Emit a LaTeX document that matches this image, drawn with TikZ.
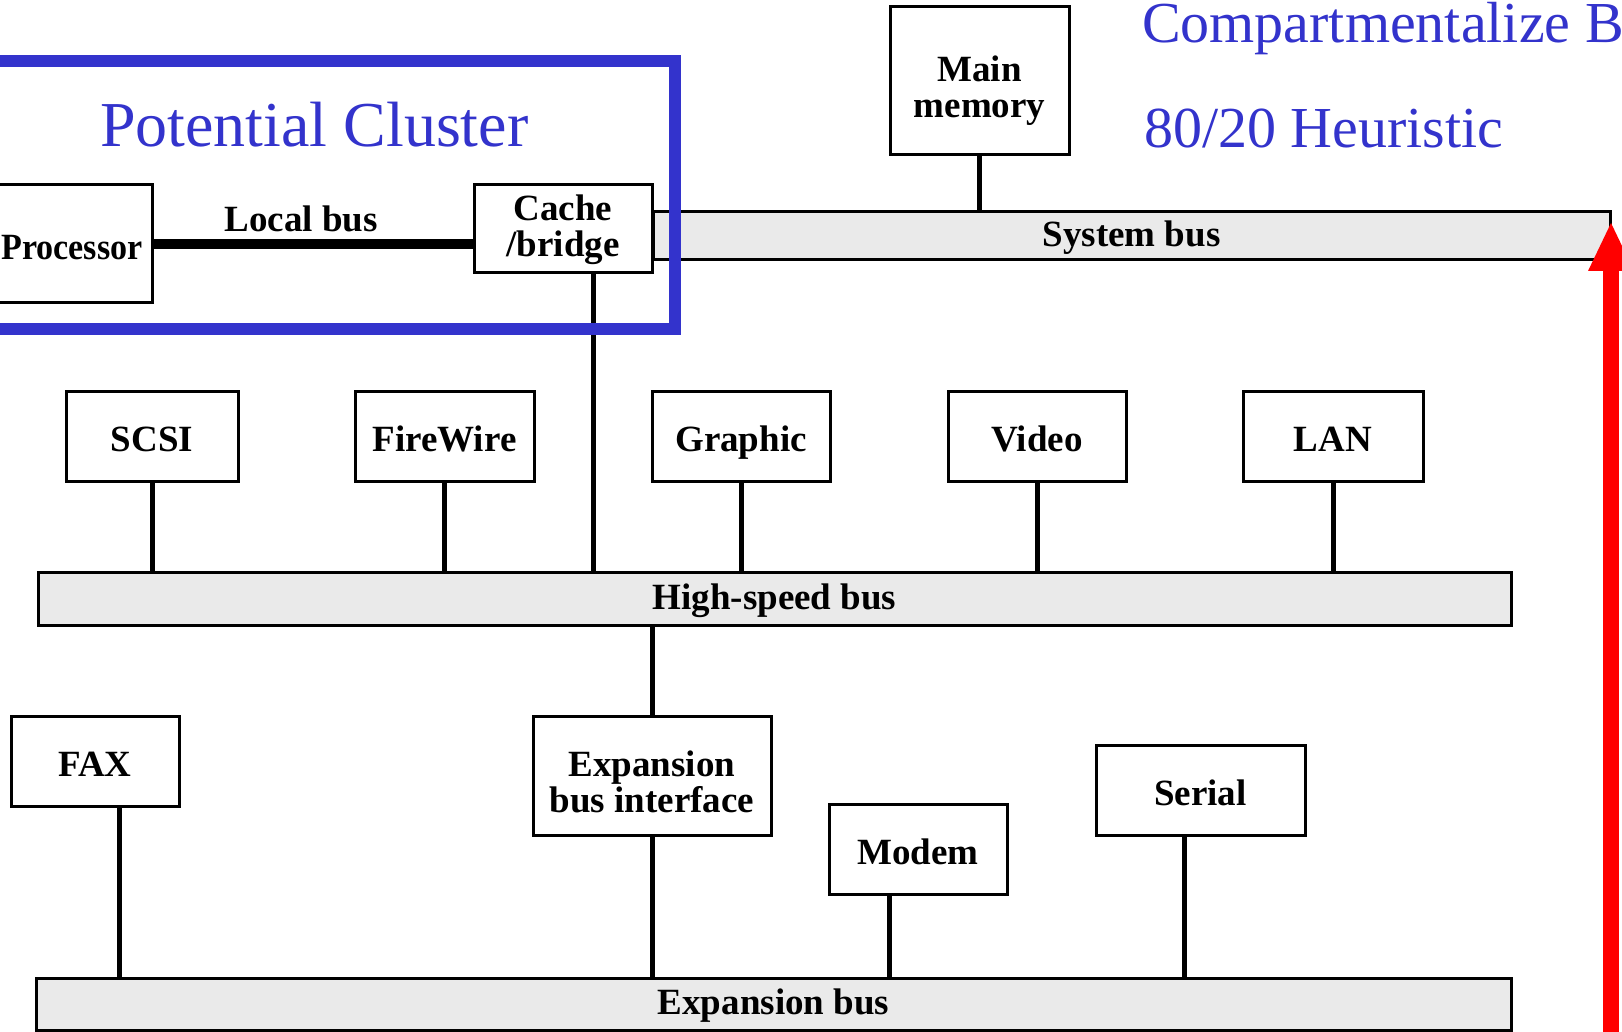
\documentclass[tikz,border=0pt]{standalone}
\usepackage{fontspec}
\usepackage{graphicx}
\setmainfont{Liberation Serif}
\usetikzlibrary{arrows.meta}
\definecolor{clusterblue}{RGB}{51,51,204}
\definecolor{busgray}{RGB}{234,234,234}
\definecolor{arrowred}{RGB}{255,0,0}

\begin{document}
\begin{tikzpicture}[x=1pt,y=-1pt,
  unitbox/.style={draw, line width=3pt, fill=white, inner sep=0pt, outer sep=0pt,
    align=center, font=\bfseries\fontsize{37}{36}\selectfont,
    text height=31pt, text depth=0pt},
  twoline/.style={text height=74pt, text depth=0pt},
  busbar/.style={draw, line width=3pt, fill=busgray, inner sep=0pt, outer sep=0pt,
    font=\bfseries\fontsize{37}{37}\selectfont, text height=21pt, text depth=0pt},
  wire/.style={line width=5pt},
  note/.style={text=clusterblue, anchor=base west, inner sep=0pt, outer sep=0pt}]

\useasboundingbox (0,0) rectangle (1622,1032);
\clip (0,0) rectangle (1622,1032);

% buses
\node[busbar, minimum width=957pt, minimum height=48pt] (sysbus) at (1131.5,236) {System bus};
\node[busbar, minimum width=1473pt, minimum height=53pt] (hsbus) at (774.5,598.5) {High-speed bus};
\node[busbar, minimum width=1475pt, minimum height=52pt] (xbus) at (773.5,1004) {Expansion bus};

% units
\node[unitbox, twoline, minimum width=179pt, minimum height=148pt] (mem) at (979.5,81) {Main\\memory};
\node[unitbox, minimum width=160pt, minimum height=118pt] (proc) at (72,244) {\scalebox{0.92}[1]{Processor}};
\node[unitbox, twoline, text height=56pt, minimum width=178pt, minimum height=88pt] (cache) at (563,229) {Cache\\/bridge};

\node[unitbox, minimum width=172pt, minimum height=90pt] (scsi) at (152,436) {SCSI};
\node[unitbox, minimum width=179pt, minimum height=90pt] (fw) at (444.5,436) {FireWire};
\node[unitbox, minimum width=178pt, minimum height=90pt] (gfx) at (741,436) {Graphic};
\node[unitbox, minimum width=178pt, minimum height=90pt] (video) at (1037,436) {Video};
\node[unitbox, minimum width=180pt, minimum height=90pt] (lan) at (1333,436) {LAN};

\node[unitbox, minimum width=168pt, minimum height=90pt] (fax) at (95,761) {FAX};
\node[unitbox, twoline, minimum width=238pt, minimum height=119pt] (ebi) at (652,775.5) {Expansion\\bus interface};
\node[unitbox, minimum width=178pt, minimum height=90pt] (modem) at (918,849) {Modem};
\node[unitbox, minimum width=209pt, minimum height=90pt] (serial) at (1200.5,790) {Serial};

% local bus
\draw[line width=10pt] (proc.east) -- (proc.east -| cache.west);
\node[font=\bfseries\fontsize{37}{37}\selectfont, inner sep=0pt] (lbl) at (301,219) {Local bus};

% taps onto the buses
\draw[wire] (mem.south) -- (mem.south |- sysbus.north);
\draw[wire] ([xshift=30pt]cache.south) -- ([xshift=30pt]cache.south |- hsbus.north);
\foreach \u in {scsi,fw,gfx,video,lan}
  \draw[wire] (\u.south) -- (\u.south |- hsbus.north);
\draw[wire] (ebi.north) -- (ebi.north |- hsbus.south);
\draw[wire] (ebi.south) -- (ebi.south |- xbus.north);
\draw[wire] ([xshift=24pt]fax.south) -- ([xshift=24pt]fax.south |- xbus.north);
\draw[wire] ([xshift=-29pt]modem.south) -- ([xshift=-29pt]modem.south |- xbus.north);
\draw[wire] ([xshift=-16.5pt]serial.south) -- ([xshift=-16.5pt]serial.south |- xbus.north);

% cluster frame and notes
\draw[clusterblue, line width=12pt] (-30,61) rectangle (675,329);
\node[note, font=\fontsize{64}{64}\selectfont] (cluster) at (100,147) {Potential Cluster};
\node[note, font=\fontsize{58}{58}\selectfont] (comp) at (1142,43) {Compartmentalize B};
\node[note, font=\fontsize{58}{58}\selectfont] (heur) at (1144,148) {80/20 Heuristic};

% red arrow up to the system bus
\coordinate (rtail) at (1611,1045);
\coordinate (rtip) at (1611,223);
\draw[arrowred, line width=16pt,
  -{Triangle[width=46pt,length=48pt,line width=0pt]}] (rtail) -- (rtip);
\end{tikzpicture}
\end{document}
